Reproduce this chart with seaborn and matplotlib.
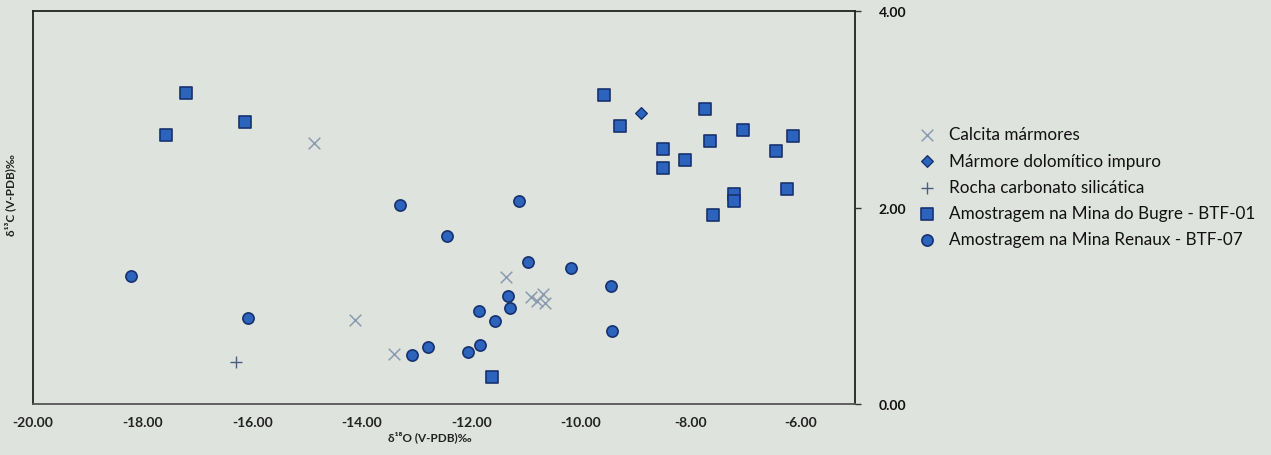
import matplotlib
matplotlib.use("Agg")
import matplotlib.pyplot as plt
import seaborn as sns
import pandas as pd

# ---- data ----
calcita_x = [-14.88, -14.12, -13.41, -11.37, -10.91, -10.81, -10.69, -10.65]
calcita_y = [2.66, 0.86, 0.51, 1.29, 1.09, 1.05, 1.12, 1.03]

dolomitico_x = [-8.91]
dolomitico_y = [2.96]

rocha_x = [-16.30]
rocha_y = [0.43]

bugre_x = [-17.21, -17.57, -16.14, -9.58, -9.28, -8.50, -8.50, -8.10, -7.74,
           -7.64, -7.59, -7.20, -7.20, -7.05, -6.44, -6.14, -6.25, -11.62]
bugre_y = [3.17, 2.74, 2.87, 3.15, 2.83, 2.60, 2.40, 2.48, 3.00,
           2.68, 1.92, 2.14, 2.07, 2.79, 2.58, 2.73, 2.19, 0.27]

renaux_x = [-18.22, -16.07, -13.30, -13.08, -12.79, -12.45, -11.13, -10.97,
            -10.18, -9.45, -9.43, -11.34, -11.30, -11.86, -11.57, -12.06, -11.84]
renaux_y = [1.30, 0.88, 2.03, 0.50, 0.58, 1.71, 2.07, 1.45,
            1.38, 1.20, 0.74, 1.10, 0.98, 0.95, 0.84, 0.53, 0.60]

series_names = ["Calcita mármores", "Mármore dolomítico impuro",
                "Rocha carbonato silicática",
                "Amostragem na Mina do Bugre - BTF-01",
                "Amostragem na Mina Renaux - BTF-07"]

x_ticks = [-20, -18, -16, -14, -12, -10, -8, -6]
y_ticks = [0, 2, 4]
x_label = "δ¹⁸O (V-PDB)‰"
y_label = "δ¹³C (V-PDB)‰"

# ---- style ----
sns.set_theme(style="white")
plt.rcParams['font.family'] = ['Lato', 'DejaVu Sans']

bg = "#dfe3de"
blue = "#2c63bd"
edge = "#17326e"
gray = "#8a9bb0"

fig = plt.figure(figsize=(12.71, 4.56), dpi=100, facecolor=bg)
ax = fig.add_axes([33 / 1271, 1 - 405 / 456, (855 - 33) / 1271, (405 - 12) / 456])
ax.set_facecolor(bg)

sns.scatterplot(x=calcita_x, y=calcita_y, ax=ax, marker="x", s=70,
                color=gray, linewidth=1.1, label=series_names[0])
sns.scatterplot(x=dolomitico_x, y=dolomitico_y, ax=ax, marker="D", s=35,
                color=blue, edgecolor=edge, linewidth=1.0, label=series_names[1])
sns.scatterplot(x=rocha_x, y=rocha_y, ax=ax, marker="+", s=80,
                color="#4a5f80", linewidth=1.0, label=series_names[2])
sns.scatterplot(x=bugre_x, y=bugre_y, ax=ax, marker="s", s=75,
                color=blue, edgecolor=edge, linewidth=1.2, label=series_names[3])
sns.scatterplot(x=renaux_x, y=renaux_y, ax=ax, marker="o", s=65,
                color=blue, edgecolor=edge, linewidth=1.2, label=series_names[4])

ax.set_xlim(-20, -5)
ax.set_ylim(0, 4)
ax.set_xticks(x_ticks)
ax.set_xticklabels([f"{v:.2f}" for v in x_ticks])
ax.set_yticks(y_ticks)
ax.set_yticklabels([f"{v:.2f}" for v in y_ticks])
ax.yaxis.tick_right()
ax.tick_params(axis="x", direction="inout", length=5, width=1, color="#333333",
               labelsize=10, labelcolor="#222222", pad=6)
ax.tick_params(axis="y", direction="out", length=4, width=1, color="#333333",
               labelsize=10, labelcolor="#111111", pad=13)
for lab in ax.get_yticklabels() + ax.get_xticklabels():
    lab.set_fontweight("bold")

for side in ["left", "top", "right", "bottom"]:
    ax.spines[side].set_visible(True)
    ax.spines[side].set_color("#222222")
    ax.spines[side].set_linewidth(1.3)
ax.spines["bottom"].set_color("#555555")

ax.set_xlabel("")
ax.set_ylabel("")
fig.text(430 / 1271, 1 - 437 / 456, x_label, fontsize=8.5, fontweight="bold",
         ha="center", va="center", color="#222222")
fig.text(10 / 1271, 1 - 195 / 456, y_label, fontsize=8.5, fontweight="bold",
         rotation=90, ha="center", va="center", color="#222222")

leg = ax.legend(loc="center left", bbox_to_anchor=(911 / 1271, 1 - 188 / 456),
                bbox_transform=fig.transFigure, frameon=False, fontsize=12.3,
                labelspacing=0.6, handletextpad=0.75, handlelength=1.1,
                borderaxespad=0)
for t in leg.get_texts():
    t.set_color("#111111")

fig.savefig("out.png", dpi=100, facecolor=bg)
